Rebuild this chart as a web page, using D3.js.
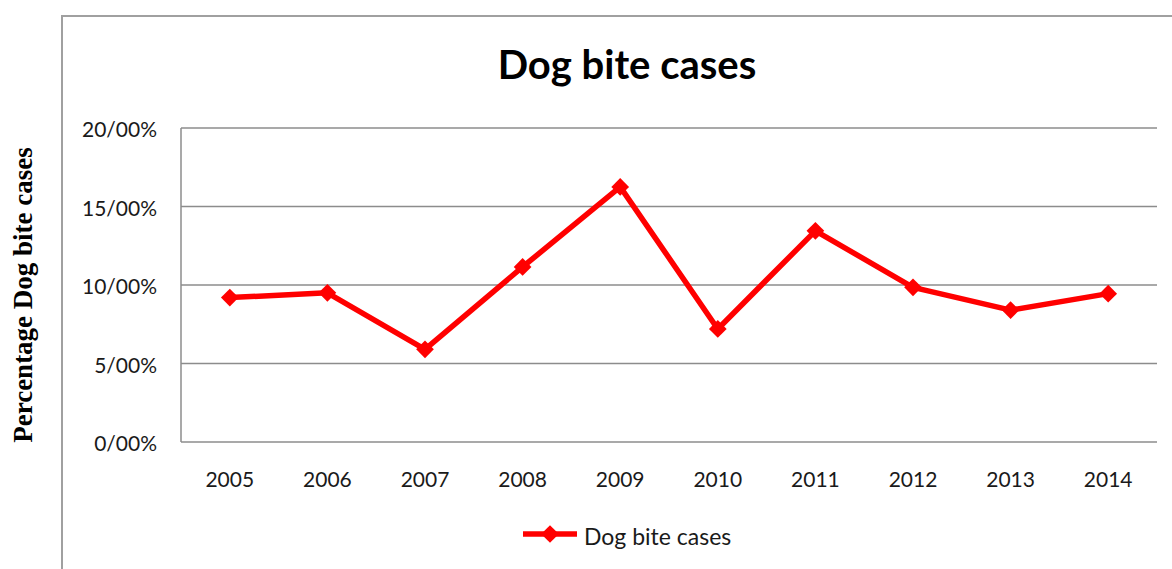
<!DOCTYPE html>
<html>
<head>
<meta charset="utf-8">
<script src="https://cdn.jsdelivr.net/npm/d3@7"></script>
<style>
  body { margin: 0; background: #fff; }
  svg { display: block; }
</style>
</head>
<body>
<script>
// Dog bite cases, percentage per year
var years = ["2005", "2006", "2007", "2008", "2009", "2010", "2011", "2012", "2013", "2014"];
var values = [9.2, 9.5, 5.9, 11.15, 16.25, 7.2, 13.45, 9.85, 8.4, 9.45];
var yTicks = [0, 5, 10, 15, 20];
var seriesName = "Dog bite cases";

var width = 1172, height = 569;
var plot = {left: 181, right: 1157, top: 128, bottom: 442};
var labelFont = "Lato, 'Open Sans', sans-serif";

var svg = d3.select("body").append("svg")
    .attr("width", width)
    .attr("height", height);

// outer chart frame
svg.append("path")
    .attr("d", "M62,569V16H1172")
    .attr("fill", "none")
    .attr("stroke", "#a0a0a0")
    .attr("stroke-width", 2);

var x = d3.scaleBand().domain(years).range([plot.left, plot.right]);
var y = d3.scaleLinear().domain([0, 20]).range([plot.bottom, plot.top]);

// gridlines
svg.append("g")
    .selectAll("line")
    .data(yTicks)
    .enter().append("line")
    .attr("x1", plot.left)
    .attr("x2", plot.right)
    .attr("y1", function(d) { return y(d); })
    .attr("y2", function(d) { return y(d); })
    .attr("stroke", "#8c8c8c")
    .attr("stroke-width", 1.5);

svg.append("line")
    .attr("x1", plot.left).attr("x2", plot.left)
    .attr("y1", plot.top).attr("y2", plot.bottom)
    .attr("stroke", "#8c8c8c")
    .attr("stroke-width", 1.5);

// y tick labels
svg.append("g")
    .selectAll("text")
    .data(yTicks)
    .enter().append("text")
    .attr("x", 157)
    .attr("y", function(d) { return y(d) + 9; })
    .attr("text-anchor", "end")
    .style("font-family", labelFont)
    .style("font-size", "21px")
    .style("fill", "#1a1a1a")
    .text(function(d) { return d + "/00%"; });

// x tick labels
svg.append("g")
    .selectAll("text")
    .data(years)
    .enter().append("text")
    .attr("x", function(d) { return x(d) + x.bandwidth() / 2; })
    .attr("y", 487)
    .attr("text-anchor", "middle")
    .style("font-family", labelFont)
    .style("font-size", "21px")
    .style("fill", "#1a1a1a")
    .text(function(d) { return d; });

// title
svg.append("text")
    .attr("x", 627)
    .attr("y", 79)
    .attr("text-anchor", "middle")
    .style("font-family", labelFont)
    .style("font-weight", "bold")
    .style("font-size", "40px")
    .style("fill", "#000")
    .text("Dog bite cases");

// y axis title
svg.append("text")
    .attr("transform", "translate(32,295)rotate(-90)")
    .attr("text-anchor", "middle")
    .style("font-family", "'Liberation Serif', 'Times New Roman', serif")
    .style("font-weight", "bold")
    .style("font-size", "27px")
    .style("fill", "#000")
    .text("Percentage Dog bite cases");

// series line
var line = d3.line()
    .x(function(d, i) { return x(years[i]) + x.bandwidth() / 2; })
    .y(function(d) { return y(d); });

svg.append("path")
    .datum(values)
    .attr("d", line)
    .attr("fill", "none")
    .attr("stroke", "#ff0000")
    .attr("stroke-width", 5.5)
    .attr("stroke-linejoin", "round");

var diamond = d3.symbol().type(d3.symbolDiamond2).size(200);

svg.append("g")
    .selectAll("path")
    .data(values)
    .enter().append("path")
    .attr("d", diamond)
    .attr("transform", function(d, i) {
        return "translate(" + (x(years[i]) + x.bandwidth() / 2) + "," + y(d) + ")";
    })
    .attr("fill", "#ff0000");

// legend
var legend = svg.append("g").attr("transform", "translate(523,534)");
legend.append("line")
    .attr("x1", 0).attr("x2", 54)
    .attr("stroke", "#ff0000")
    .attr("stroke-width", 5.5);
legend.append("path")
    .attr("d", diamond)
    .attr("transform", "translate(27,0)")
    .attr("fill", "#ff0000");
legend.append("text")
    .attr("x", 61)
    .attr("y", 11)
    .style("font-family", labelFont)
    .style("font-size", "23px")
    .style("fill", "#1a1a1a")
    .text(seriesName);
</script>
</body>
</html>
